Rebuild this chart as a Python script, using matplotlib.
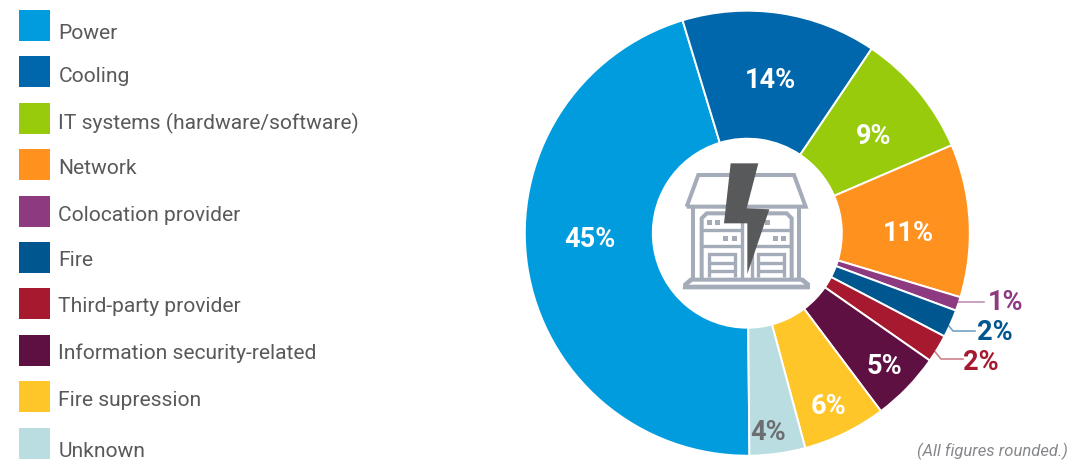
import matplotlib
matplotlib.use("Agg")
from matplotlib import pyplot as plt
from matplotlib.patches import Rectangle, Polygon

plt.rcParams['font.family'] = ['Roboto', 'DejaVu Sans']

categories = ["Power", "Cooling", "IT systems (hardware/software)", "Network",
              "Colocation provider", "Fire", "Third-party provider",
              "Information security-related", "Fire supression", "Unknown"]
values = [45, 14, 9, 11, 1, 2, 2, 5, 6, 4]
colors = ["#009cde", "#0067ac", "#97cb0c", "#ff911e", "#8e3a80",
          "#00568f", "#a6192e", "#5f1042", "#ffc629", "#b9dde1"]

W, H = 1083, 461
TEXT = "#58595b"
ICON = "#a4abb9"

# layout, in pixels from the top left corner
swatch_tops = [10, 56, 103, 149, 196, 242, 288, 335, 381, 428]
legend_text_y = [34, 77, 123, 169, 216, 261, 307, 353, 401, 451]
inside_labels = {0: (590, 240), 1: (770, 81), 2: (874, 137), 3: (908, 234),
                 7: (884, 367), 8: (828, 406), 9: (768, 432)}
outside_labels = {4: (1006, 303), 5: (995, 332), 6: (981, 362)}
leaders = {4: [(947, 302), (984, 302)],
           5: [(939, 314), (953, 331), (975, 331)],
           6: [(927, 342), (941, 359), (963, 359)]}


def px(x, y):
    return x, H - y


def icon_pt(zx, zy):
    # icon outline was laid out on a 3x grid starting at (640, 140)
    return px(640 + zx / 3, 140 + zy / 3)


def icon_line(ax, pts, lw=2.9, color=ICON):
    xs, ys = zip(*[icon_pt(*p) for p in pts])
    ax.plot(xs, ys, color=color, lw=lw, solid_capstyle='butt', solid_joinstyle='miter', zorder=4)


fig = plt.figure(figsize=(W / 100, H / 100), dpi=100)
ax = fig.add_axes([0, 0, 1, 1])

ax.pie(values, colors=colors, startangle=270.55, counterclock=False,
       center=px(747.3, 233.2), radius=222.5, normalize=True,
       wedgeprops=dict(width=128, edgecolor='white', linewidth=1.4))

ax.set_xlim(0, W)
ax.set_ylim(0, H)
ax.set_aspect('equal')
ax.axis('off')

# legend
for name, col, top, ty in zip(categories, colors, swatch_tops, legend_text_y):
    ax.add_patch(Rectangle(px(19, top + 31), 31, 31, facecolor=col, edgecolor='none'))
    x, y = px(58.5, ty)
    ax.text(x, y, name, color=TEXT, fontsize=15.15, va='center', ha='left')

# percentages
for i, pos in inside_labels.items():
    x, y = px(*pos)
    col = "#6d6e71" if categories[i] == "Unknown" else "white"
    ax.text(x, y, f"{values[i]}%", color=col, fontsize=19.5, fontweight='bold', ha='center', va='center')

for i, pos in outside_labels.items():
    x, y = px(*pos)
    ax.text(x, y, f"{values[i]}%", color=colors[i], fontsize=19.5, fontweight='bold', ha='center', va='center')
    xs, ys = zip(*[px(*p) for p in leaders[i]])
    ax.plot(xs, ys, color=colors[i], lw=1.2, alpha=0.55, zorder=3)

x, y = px(992, 451)
ax.text(x, y, "(All figures rounded.)", color="#85878a", fontsize=12, style='italic', ha='center', va='center')

# building icon in the hole
icon_line(ax, [(140, 200), (175, 105), (462, 105), (497, 200), (140, 200)])
icon_line(ax, [(158, 200), (158, 415)])
icon_line(ax, [(478, 200), (478, 415)])
icon_line(ax, [(185, 415), (185, 235), (200, 220), (440, 220), (455, 235), (455, 415)])
icon_line(ax, [(185, 270), (305, 270)], lw=2.4)
icon_line(ax, [(185, 317), (305, 317)], lw=2.4)
icon_line(ax, [(305, 220), (305, 415)], lw=2.4)
icon_line(ax, [(335, 220), (335, 415)], lw=2.4)
icon_line(ax, [(335, 270), (455, 270)], lw=2.4)
icon_line(ax, [(335, 317), (455, 317)], lw=2.4)
icon_line(ax, [(207, 412), (207, 343), (285, 343), (285, 412)], lw=2.4)
icon_line(ax, [(355, 412), (355, 343), (433, 343), (433, 412)], lw=2.4)
for yy in (368, 392):
    icon_line(ax, [(207, yy), (285, yy)], lw=2.4)
    icon_line(ax, [(355, yy), (433, yy)], lw=2.4)
for sq in [(201, 240), (225, 240), (249, 288), (276, 288), (375, 240), (399, 288), (423, 288)]:
    ax.add_patch(Polygon([icon_pt(sq[0], sq[1]), icon_pt(sq[0] + 15, sq[1]),
                          icon_pt(sq[0] + 15, sq[1] + 15), icon_pt(sq[0], sq[1] + 15)],
                         facecolor=ICON, edgecolor='none', zorder=4))
ax.add_patch(Polygon([icon_pt(*p) for p in [(128, 448), (130, 430), (150, 413), (490, 413),
                                            (510, 430), (510, 448)]],
                     facecolor=ICON, edgecolor='none', zorder=4))
ax.add_patch(Polygon([icon_pt(*p) for p in [(146, 434), (158, 425), (482, 425), (494, 434)]],
                     facecolor='white', edgecolor='none', zorder=4))

# lightning bolt on top
ax.add_patch(Polygon([icon_pt(*p) for p in [(272, 70), (355, 70), (320, 205), (388, 208),
                                            (322, 402), (322, 250), (252, 250)]],
                     facecolor="#58595b", edgecolor='none', zorder=5))

fig.savefig("out.png", dpi=100, facecolor='white')
